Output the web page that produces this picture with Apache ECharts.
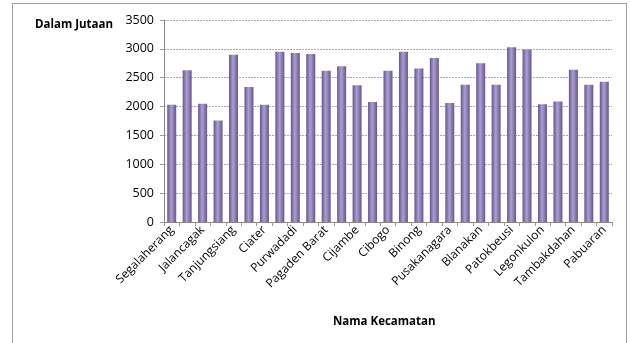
<!DOCTYPE html>
<html>
<head>
<meta charset="utf-8">
<script src="https://cdn.jsdelivr.net/npm/echarts@6/dist/echarts.min.js"></script>
<style>
  html, body { margin: 0; padding: 0; background: #fff; }
  #frame { position: absolute; left: 12px; top: 3px; width: 613px; height: 400px; border: 1px solid #a0a0a0; }
  #main { position: absolute; left: 0; top: 0; width: 630px; height: 343px; }
</style>
</head>
<body>
<div id="frame"></div>
<div id="main"></div>
<script>
var kecamatan = ['Segalaherang', 'Serangpanjang', 'Jalancagak', 'Kasomalang', 'Tanjungsiang', 'Cisalak',
  'Ciater', 'Kalijati', 'Purwadadi', 'Pagaden', 'Pagaden Barat', 'Subang', 'Cijambe', 'Dawuan',
  'Cibogo', 'Cipunagara', 'Binong', 'Compreng', 'Pusakanagara', 'Pusakajaya', 'Blanakan', 'Ciasem',
  'Patokbeusi', 'Cikaum', 'Legonkulon', 'Pamanukan', 'Tambakdahan', 'Sukasari', 'Pabuaran'];
var nilai = [2030, 2630, 2050, 1760, 2900, 2340, 2030, 2950, 2930, 2910,
  2620, 2700, 2370, 2080, 2620, 2950, 2660, 2840, 2060, 2380,
  2750, 2380, 3030, 2990, 2040, 2090, 2640, 2380, 2430];
var yTicks = [0, 3500, 500];

var chart = echarts.init(document.getElementById('main'));
var font = 'Open Sans, Liberation Sans, sans-serif';
chart.setOption({
  animation: false,
  grid: { left: 164, right: 18, top: 20, bottom: 121 },
  graphic: [
    { type: 'text', left: 35, top: 19, style: { text: 'Dalam Jutaan', font: 'bold 11.5px ' + font, fill: '#000' } },
    { type: 'text', left: 333, top: 316, style: { text: 'Nama Kecamatan', font: 'bold 11.5px ' + font, fill: '#000' } }
  ],
  xAxis: {
    type: 'category',
    data: kecamatan,
    axisLine: { lineStyle: { color: '#888' } },
    axisTick: { show: true, interval: 0, length: 4, lineStyle: { color: '#999' } },
    axisLabel: { interval: 1, rotate: 45, fontSize: 12, fontFamily: font, color: '#000', margin: 6 }
  },
  yAxis: {
    type: 'value',
    min: yTicks[0], max: yTicks[1], interval: yTicks[2],
    axisLine: { show: true, lineStyle: { color: '#888' } },
    axisTick: { show: true, length: 4, lineStyle: { color: '#999' } },
    axisLabel: { fontSize: 12.5, fontFamily: font, color: '#000', margin: 10, formatter: function (v) { return String(v); } },
    splitLine: { lineStyle: { color: '#aaa', type: [2, 1] } }
  },
  series: [{
    type: 'bar',
    data: nilai,
    barWidth: 9,
    itemStyle: {
      color: new echarts.graphic.LinearGradient(0, 0, 1, 0, [
        { offset: 0, color: '#65568e' },
        { offset: 0.45, color: '#ab9fd2' },
        { offset: 1, color: '#65568e' }
      ])
    }
  }]
});
</script>
</body>
</html>
